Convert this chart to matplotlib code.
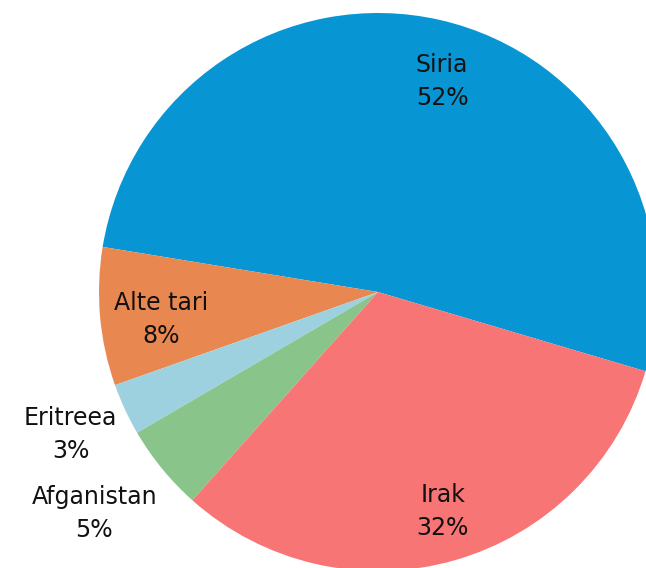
import numpy as np
import matplotlib.pyplot as plt

countries = ['Siria', 'Alte tari', 'Eritreea', 'Afganistan', 'Irak']
shares = [52, 8, 3, 5, 32]
colors = ['#0795D3', '#E8874F', '#9ED1E0', '#89C58A', '#F87575']

# label placement: distance from centre (radius units) and angle nudge (deg)
label_dist = [0.79, 0.785, 1.215, 1.29, 0.82]
label_nudge = [-4.0, 2.0, 0.0, -1.3, 0.5]

fig = plt.figure(figsize=(6.46, 5.68), dpi=100)
ax = fig.add_axes([0, 0, 1, 1])

wedges, _ = ax.pie(shares, colors=colors, startangle=-16.5, counterclock=True,
                   radius=1.0, center=(0, 0), frame=True,
                   wedgeprops=dict(linewidth=0))

for w, name, val, d, nudge in zip(wedges, countries, shares, label_dist, label_nudge):
    mid = np.deg2rad((w.theta1 + w.theta2) / 2 + nudge)
    ax.text(d * np.cos(mid), d * np.sin(mid), f'{name}\n{val}%',
            ha='center', va='center', fontsize=17, linespacing=1.48,
            family=['DejaVu Sans'], color='#111111')

px = 279.0
ax.set_xlim(-378 / px, (646 - 378) / px)
ax.set_ylim(-(568 - 292) / px, 292 / px)
ax.set_aspect('auto')
ax.axis('off')

fig.savefig('out.png', dpi=100)
